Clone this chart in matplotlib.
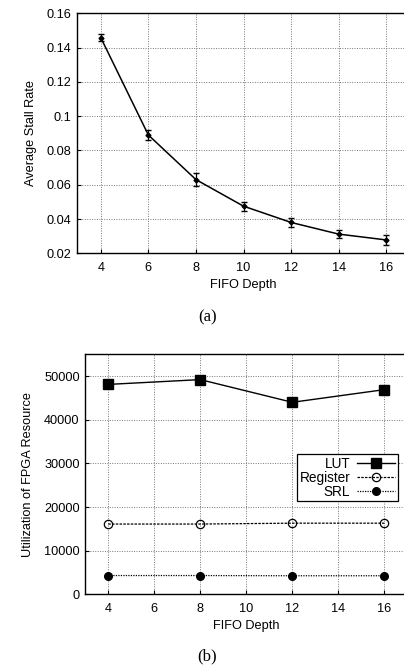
import numpy as np
import matplotlib.pyplot as plt

plt.rcParams['font.family'] = ['Liberation Sans', 'DejaVu Sans']

# (a) stall rate vs FIFO depth
depth_a = [4, 6, 8, 10, 12, 14, 16]
stall = [0.1458, 0.089, 0.063, 0.0475, 0.038, 0.0312, 0.0278]
stall_err = [0.002, 0.0027, 0.0037, 0.0027, 0.0024, 0.0024, 0.0027]

# (b) FPGA resource vs FIFO depth
depth_b = [4, 8, 12, 16]
lut = [48100, 49200, 44000, 46900]
register = [16100, 16100, 16300, 16300]
srl = [4300, 4300, 4250, 4250]

W, H = 404, 667
fig = plt.figure(figsize=(W / 100, H / 100), dpi=100)
FS = 9.2


def px(l, t, r, b):
    return [l / W, 1 - b / H, (r - l) / W, (b - t) / H]


def style(ax):
    ax.grid(True, color='#777777', linestyle=(0, (1, 1.5)), linewidth=0.7)
    ax.tick_params(direction='in', length=3, labelsize=FS, width=0.8, pad=6)
    ax.tick_params(axis='y', pad=4)
    for s in ax.spines.values():
        s.set_linewidth(1.0)
    ax.set_xlim(3, 17)
    ax.set_xticks(range(4, 17, 2))


ax1 = fig.add_axes(px(77, 13.3, 410, 253.3))
style(ax1)
ax1.errorbar(depth_a, stall, yerr=stall_err, color='black', lw=1.1,
             marker='D', ms=2.5, elinewidth=0.9, capsize=2.3)
ax1.set_ylim(0.02, 0.16)
ax1.set_yticks([0.02, 0.04, 0.06, 0.08, 0.1, 0.12, 0.14, 0.16])
ax1.set_yticklabels(['0.02', '0.04', '0.06', '0.08', '0.1', '0.12', '0.14', '0.16'])
ax1.set_xlabel('FIFO Depth', fontsize=FS, labelpad=4)
ax1.set_ylabel('Average Stall Rate', fontsize=FS, labelpad=7)

ax2 = fig.add_axes(px(85.3, 354.3, 407.3, 594.3))
style(ax2)
ax2.plot(depth_b, lut, color='black', lw=1.0, marker='s', ms=6.5, label='LUT')
ax2.plot(depth_b, register, color='black', lw=0.9, ls=(0, (2, 1)), marker='o',
         ms=6, mfc='none', mew=0.9, label='Register')
ax2.plot(depth_b, srl, color='black', lw=0.9, ls=(0, (1, 1)), marker='o',
         ms=5.5, label='SRL')
ax2.set_ylim(0, 55000)
ax2.set_yticks(range(0, 50001, 10000))
ax2.set_xlabel('FIFO Depth', fontsize=FS, labelpad=4)
ax2.set_ylabel('Utilization of FPGA Resource', fontsize=FS, labelpad=7)
leg = ax2.legend(loc='upper right', bbox_to_anchor=(0.971, 0.585), markerfirst=False,
                 fontsize=9.8, fancybox=False, framealpha=1, edgecolor='black',
                 borderpad=0.2, labelspacing=0.0, handlelength=2.8,
                 handletextpad=0.5, borderaxespad=0)
leg.get_frame().set_linewidth(0.9)

fig.text(208 / W, 1 - 317 / H, '(a)', ha='center', va='center',
         family='Liberation Serif', fontsize=12)
fig.text(207 / W, 1 - 656.7 / H, '(b)', ha='center', va='center',
         family='Liberation Serif', fontsize=12)

fig.savefig('out.png', dpi=100)
